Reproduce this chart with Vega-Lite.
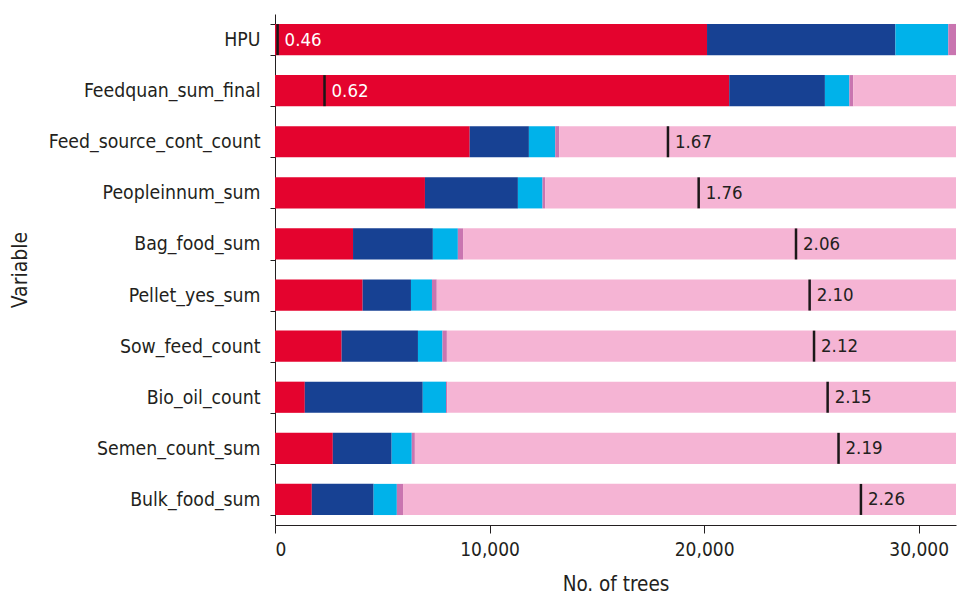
{
  "$schema": "https://vega.github.io/schema/vega-lite/v6.json",
  "autosize": {"type": "none"},
  "width": 681,
  "height": 511,
  "padding": {"left": 275, "top": 14, "right": 1, "bottom": 69},
  "background": "white",
  "config": {
    "view": {"stroke": null},
    "font": "DejaVu Sans Condensed",
    "axis": {"labelFont": "DejaVu Sans Condensed", "titleFont": "DejaVu Sans Condensed", "labelColor": "#231F20", "titleColor": "#231F20", "domainColor": "#231F20", "tickColor": "#231F20", "titleFontWeight": "normal", "grid": false}
  },
  "datasets": {
    "bars": [
      {"variable": "HPU", "group": "1", "n": 20136},
      {"variable": "HPU", "group": "2", "n": 8782},
      {"variable": "HPU", "group": "3", "n": 2462},
      {"variable": "HPU", "group": "4", "n": 360},
      {"variable": "HPU", "group": "5", "n": 0},
      {"variable": "Feedquan_sum_final", "group": "1", "n": 21170},
      {"variable": "Feedquan_sum_final", "group": "2", "n": 4460},
      {"variable": "Feedquan_sum_final", "group": "3", "n": 1140},
      {"variable": "Feedquan_sum_final", "group": "4", "n": 180},
      {"variable": "Feedquan_sum_final", "group": "5", "n": 4790},
      {"variable": "Feed_source_cont_count", "group": "1", "n": 9074},
      {"variable": "Feed_source_cont_count", "group": "2", "n": 2760},
      {"variable": "Feed_source_cont_count", "group": "3", "n": 1226},
      {"variable": "Feed_source_cont_count", "group": "4", "n": 182},
      {"variable": "Feed_source_cont_count", "group": "5", "n": 18498},
      {"variable": "Peopleinnum_sum", "group": "1", "n": 6989},
      {"variable": "Peopleinnum_sum", "group": "2", "n": 4332},
      {"variable": "Peopleinnum_sum", "group": "3", "n": 1147},
      {"variable": "Peopleinnum_sum", "group": "4", "n": 121},
      {"variable": "Peopleinnum_sum", "group": "5", "n": 19151},
      {"variable": "Bag_food_sum", "group": "1", "n": 3637},
      {"variable": "Bag_food_sum", "group": "2", "n": 3721},
      {"variable": "Bag_food_sum", "group": "3", "n": 1165},
      {"variable": "Bag_food_sum", "group": "4", "n": 243},
      {"variable": "Bag_food_sum", "group": "5", "n": 22974},
      {"variable": "Pellet_yes_sum", "group": "1", "n": 4085},
      {"variable": "Pellet_yes_sum", "group": "2", "n": 2252},
      {"variable": "Pellet_yes_sum", "group": "3", "n": 979},
      {"variable": "Pellet_yes_sum", "group": "4", "n": 224},
      {"variable": "Pellet_yes_sum", "group": "5", "n": 24200},
      {"variable": "Sow_feed_count", "group": "1", "n": 3105},
      {"variable": "Sow_feed_count", "group": "2", "n": 3558},
      {"variable": "Sow_feed_count", "group": "3", "n": 1142},
      {"variable": "Sow_feed_count", "group": "4", "n": 206},
      {"variable": "Sow_feed_count", "group": "5", "n": 23729},
      {"variable": "Bio_oil_count", "group": "1", "n": 1389},
      {"variable": "Bio_oil_count", "group": "2", "n": 5498},
      {"variable": "Bio_oil_count", "group": "3", "n": 1082},
      {"variable": "Bio_oil_count", "group": "4", "n": 65},
      {"variable": "Bio_oil_count", "group": "5", "n": 23706},
      {"variable": "Semen_count_sum", "group": "1", "n": 2695},
      {"variable": "Semen_count_sum", "group": "2", "n": 2742},
      {"variable": "Semen_count_sum", "group": "3", "n": 937},
      {"variable": "Semen_count_sum", "group": "4", "n": 145},
      {"variable": "Semen_count_sum", "group": "5", "n": 25221},
      {"variable": "Bulk_food_sum", "group": "1", "n": 1716},
      {"variable": "Bulk_food_sum", "group": "2", "n": 2881},
      {"variable": "Bulk_food_sum", "group": "3", "n": 1082},
      {"variable": "Bulk_food_sum", "group": "4", "n": 289},
      {"variable": "Bulk_food_sum", "group": "5", "n": 25772}
    ],
    "marks": [
      {"variable": "HPU", "pos": 120, "label": "0.46"},
      {"variable": "Feedquan_sum_final", "pos": 2308, "label": "0.62"},
      {"variable": "Feed_source_cont_count", "pos": 18315, "label": "1.67"},
      {"variable": "Peopleinnum_sum", "pos": 19746, "label": "1.76"},
      {"variable": "Bag_food_sum", "pos": 24283, "label": "2.06"},
      {"variable": "Pellet_yes_sum", "pos": 24918, "label": "2.10"},
      {"variable": "Sow_feed_count", "pos": 25123, "label": "2.12"},
      {"variable": "Bio_oil_count", "pos": 25757, "label": "2.15"},
      {"variable": "Semen_count_sum", "pos": 26265, "label": "2.19"},
      {"variable": "Bulk_food_sum", "pos": 27309, "label": "2.26"}
    ]
  },
  "encoding": {
    "y": {
      "field": "variable",
      "type": "nominal",
      "sort": ["HPU", "Feedquan_sum_final", "Feed_source_cont_count", "Peopleinnum_sum", "Bag_food_sum", "Pellet_yes_sum", "Sow_feed_count", "Bio_oil_count", "Semen_count_sum", "Bulk_food_sum"],
      "scale": {"paddingInner": 0.39, "paddingOuter": 0.195},
      "axis": {"title": "Variable", "titleFontSize": 21, "labelFontSize": 19.3, "tickSize": 5, "labelPadding": 10, "tickBand": "extent", "titlePadding": 45, "labelLimit": 400}
    }
  },
  "layer": [
    {
      "data": {"name": "bars"},
      "mark": {"type": "bar"},
      "encoding": {
        "x": {
          "field": "n",
          "type": "quantitative",
          "stack": "zero",
          "scale": {"domain": [0, 31740], "nice": false},
          "axis": {"title": "No. of trees", "values": [0, 10000, 20000, 30000], "labelExpr": "format(datum.value, ',')", "tickSize": 8, "labelPadding": 7, "labelFontSize": 19, "titleFontSize": 20.5, "titlePadding": 15}
        },
        "color": {
          "field": "group",
          "type": "nominal",
          "scale": {"domain": ["1", "2", "3", "4", "5"], "range": ["#E4032E", "#174193", "#00B2EA", "#C975B0", "#F5B4D4"]},
          "legend": null
        },
        "order": {"field": "group", "type": "ordinal", "sort": "ascending"}
      }
    },
    {
      "data": {"name": "marks"},
      "mark": {"type": "tick", "orient": "vertical", "size": 31, "thickness": 2.5, "color": "#1A1718", "opacity": 1},
      "encoding": {
        "x": {"field": "pos", "type": "quantitative", "axis": {"title": "No. of trees", "values": [0, 10000, 20000, 30000], "labelExpr": "format(datum.value, ',')", "tickSize": 8, "labelPadding": 7, "labelFontSize": 19, "titleFontSize": 20.5, "titlePadding": 15}}
      }
    },
    {
      "data": {"name": "marks"},
      "mark": {"type": "text", "align": "left", "baseline": "middle", "dx": 7, "fontSize": 18.5, "font": "DejaVu Sans Condensed"},
      "encoding": {
        "x": {"field": "pos", "type": "quantitative", "axis": {"title": "No. of trees", "values": [0, 10000, 20000, 30000], "labelExpr": "format(datum.value, ',')", "tickSize": 8, "labelPadding": 7, "labelFontSize": 19, "titleFontSize": 20.5, "titlePadding": 15}},
        "text": {"field": "label"},
        "color": {"condition": {"test": "datum.pos < 5000", "value": "white"}, "value": "#231F20"}
      }
    }
  ]
}
